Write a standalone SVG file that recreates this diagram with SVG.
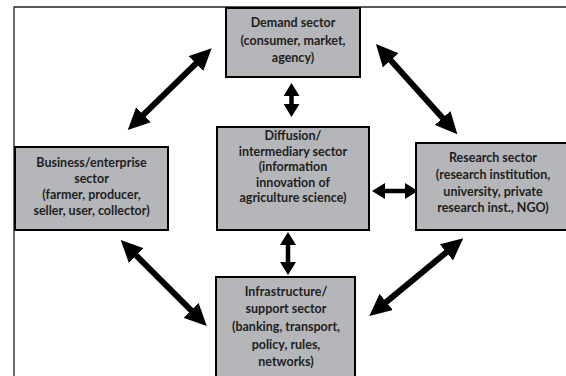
<svg xmlns="http://www.w3.org/2000/svg" width="566" height="376" viewBox="0 0 566 376">
<style>
.box{fill:#b4b6b9;stroke:#000;stroke-width:2}
.t{font-family:Lato,"Liberation Sans",sans-serif;font-size:12.5px;font-weight:bold;fill:#1e1e1e;text-anchor:middle}
.big{stroke:#000;stroke-width:6;fill:none;marker-start:url(#hb);marker-end:url(#hb)}
.sm{stroke:#000;stroke-width:4.5;fill:none;marker-start:url(#hs);marker-end:url(#hs)}
</style>
<defs>
<marker id="hb" markerUnits="userSpaceOnUse" viewBox="0 0 22 21" markerWidth="22" markerHeight="21" refX="1" refY="10.5" orient="auto-start-reverse"><path d="M0,0 L22,10.5 L0,21 Z" fill="#000"/></marker>
<marker id="hs" markerUnits="userSpaceOnUse" viewBox="0 0 13 16" markerWidth="13" markerHeight="16" refX="1" refY="8" orient="auto-start-reverse"><path d="M0,0 L13,8 L0,16 Z" fill="#000"/></marker>
</defs>
<rect width="566" height="376" fill="#fff"/>
<path d="M14,376 V7 H566" fill="none" stroke="#222" stroke-width="1.3"/>
<g id="connectors">
<line class="big" x1="196.6" y1="62.9" x2="142.8" y2="115.4"/>
<line class="big" x1="390" y1="59.6" x2="443.3" y2="118.7"/>
<line class="big" x1="135.6" y1="254.9" x2="191.9" y2="311.1"/>
<line class="big" x1="447.1" y1="251.7" x2="385.5" y2="302.6"/>
<line class="sm" x1="291.5" y1="95" x2="291.5" y2="105"/>
<line class="sm" x1="288" y1="244" x2="288" y2="263"/>
<line class="sm" x1="384" y1="191" x2="406" y2="191"/>
</g>
<g id="demand">
<rect class="box" x="226" y="8" width="134" height="69"/>
<text class="t" x="293" y="27">Demand sector</text>
<text class="t" x="293" y="44.5">(consumer, market,</text>
<text class="t" x="293" y="62">agency)</text>
</g>
<g id="business">
<rect class="box" x="15" y="147" width="153" height="83"/>
<text class="t" x="91.5" y="166.5">Business/enterprise</text>
<text class="t" x="91.5" y="182.5">sector</text>
<text class="t" x="91.5" y="199">(farmer, producer,</text>
<text class="t" x="91.5" y="215">seller, user, collector)</text>
</g>
<g id="diffusion">
<rect class="box" x="217" y="127" width="152" height="103"/>
<text class="t" x="293" y="140">Diffusion/</text>
<text class="t" x="293" y="155.5">intermediary sector</text>
<text class="t" x="293" y="171">(information</text>
<text class="t" x="293" y="186.5">innovation of</text>
<text class="t" x="293" y="202">agriculture science)</text>
</g>
<g id="research">
<rect class="box" x="416" y="143" width="152" height="87"/>
<text class="t" x="493" y="162.3">Research sector</text>
<text class="t" x="493" y="179">(research institution,</text>
<text class="t" x="493" y="195.7">university, private</text>
<text class="t" x="493" y="212.3">research inst., NGO)</text>
</g>
<g id="infrastructure">
<rect class="box" x="216" y="277" width="139" height="102"/>
<text class="t" x="286" y="296">Infrastructure/</text>
<text class="t" x="286" y="313">support sector</text>
<text class="t" x="286" y="331">(banking, transport,</text>
<text class="t" x="286" y="348.5">policy, rules,</text>
<text class="t" x="286" y="366">networks)</text>
</g>
</svg>
